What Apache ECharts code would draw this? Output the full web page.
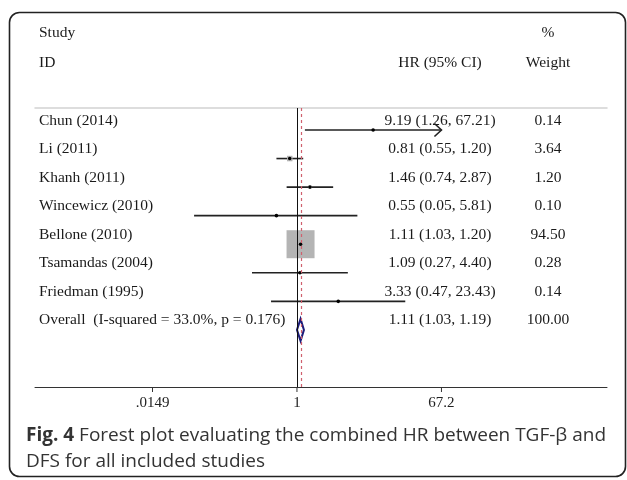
<!DOCTYPE html>
<html><head><meta charset="utf-8">
<script src="https://cdn.jsdelivr.net/npm/echarts@6/dist/echarts.min.js"></script>
<style>html,body{margin:0;padding:0;background:#fff}#c{width:627px;height:480px}</style>
</head><body><div id="c"></div>
<script>
// ---- data ----
const studies = ['Chun (2014)', 'Li (2011)', 'Khanh (2011)', 'Wincewicz (2010)', 'Bellone (2010)', 'Tsamandas (2004)', 'Friedman (1995)'];
const hr = [9.19, 0.81, 1.46, 0.55, 1.11, 1.09, 3.33];
const ciLow = [1.26, 0.55, 0.74, 0.05, 1.03, 0.27, 0.47];
const ciHigh = [67.21, 1.20, 2.87, 5.81, 1.20, 4.40, 23.43];
const weights = [0.14, 3.64, 1.20, 0.10, 94.50, 0.28, 0.14];
const overallLabel = 'Overall  (I-squared = 33.0%, p = 0.176)';
const overallHR = [1.11];
const overallLow = [1.03];
const overallHigh = [1.19];
const overallWeight = [100.00];
const tickValues = [0.0149, 1, 67.2];
const tickLabels = ['.0149', '1', '67.2'];

// ---- layout / style ----
const L = Math.log10;
const xMin = -3.313, xMax = 3.921;
const yMin = -0.77, yMax = 9;
const serif = 'Liberation Serif';
const txt = '#1a1a1a';
const boxScale = 28 / Math.sqrt(94.5);
const tickLo = L(tickValues[0]), tickHi = L(tickValues[tickValues.length - 1]);

const chart = echarts.init(document.getElementById('c'), null, {renderer: 'canvas'});

const studyData = studies.map((s, i) => [i, L(ciLow[i]), L(ciHigh[i]), L(hr[i]), weights[i]]);
const overallData = [[studies.length, L(overallLow[0]), L(overallHigh[0]), L(overallHR[0])]];
const tickData = tickValues.map(t => [L(t)]);

function renderStudy(params, api) {
  const i = api.value(0);
  let lo = api.value(1), hi = api.value(2);
  const p = api.value(3), w = api.value(4);
  const arrowR = hi > tickHi, arrowL = lo < tickLo;
  lo = Math.max(lo, tickLo); hi = Math.min(hi, tickHi);
  const a = api.coord([lo, i]), b = api.coord([hi, i]), c = api.coord([p, i]);
  const side = boxScale * Math.sqrt(w);
  const ch = [];
  ch.push({type: 'line', shape: {x1: a[0], y1: a[1], x2: b[0], y2: b[1]}, style: {stroke: '#222', lineWidth: 1.6}});
  if (arrowR) ch.push({type: 'polyline', shape: {points: [[b[0] - 7, b[1] - 6.5], [b[0], b[1]], [b[0] - 7, b[1] + 6.5]]}, style: {stroke: '#222', lineWidth: 1.6, fill: null}});
  if (arrowL) ch.push({type: 'polyline', shape: {points: [[a[0] + 7, a[1] - 6.5], [a[0], a[1]], [a[0] + 7, a[1] + 6.5]]}, style: {stroke: '#222', lineWidth: 1.6, fill: null}});
  ch.push({type: 'rect', shape: {x: c[0] - side / 2, y: c[1] - side / 2, width: side, height: side}, style: {fill: '#b4b4b4'}});
  ch.push({type: 'circle', shape: {cx: c[0], cy: c[1], r: 1.8}, style: {fill: '#000'}});
  return {type: 'group', children: ch};
}
function renderOverall(params, api) {
  const i = api.value(0);
  const a = api.coord([api.value(1), i]), b = api.coord([api.value(2), i]), c = api.coord([api.value(3), i]);
  const h = 11;
  return {type: 'polygon', shape: {points: [[a[0] - 1, a[1]], [c[0], c[1] - h], [b[0] + 1, b[1]], [c[0], c[1] + h]]},
    style: {fill: '#fff', stroke: '#1c1c7a', lineWidth: 2}};
}
function renderTick(params, api) {
  const p = api.coord([api.value(0), yMax]);
  return {type: 'line', shape: {x1: p[0], y1: p[1], x2: p[0], y2: p[1] + 5}, style: {stroke: '#333', lineWidth: 1}};
}

const option = {
  animation: false,
  backgroundColor: '#fff',
  grid: {left: 35, right: 20, top: 108, bottom: 93, containLabel: false},
  xAxis: [{
    type: 'value', min: xMin, max: xMax, position: 'bottom',
    axisLine: {show: true, onZero: false, lineStyle: {color: '#333', width: 1}},
    axisTick: {show: false},
    axisLabel: {show: true, customValues: tickValues.map(L), margin: 9, color: '#222', fontFamily: serif, fontSize: 15,
      formatter: v => { let k = 0, d = 1e9; tickValues.forEach((t, j) => { const dd = Math.abs(L(t) - v); if (dd < d) { d = dd; k = j; } }); return tickLabels[k]; }},
    splitLine: {show: false}
  }, {
    type: 'value', min: xMin, max: xMax, position: 'top',
    axisLine: {show: true, onZero: false, lineStyle: {color: '#d2d2d2', width: 1.5}},
    axisTick: {show: false}, axisLabel: {show: false}, splitLine: {show: false}
  }],
  yAxis: {type: 'value', inverse: true, min: yMin, max: yMax, show: false},
  series: [{
    type: 'custom', silent: true, z: 1, data: [],
    renderItem: () => null,
    markLine: {silent: true, symbol: 'none', label: {show: false},
      data: [
        {xAxis: 0, lineStyle: {color: '#111', width: 1, type: 'solid'}},
        {xAxis: L(overallHR[0]), lineStyle: {color: '#d0606e', width: 1.2, type: [3, 3]}}
      ]}
  }, {
    type: 'custom', z: 3, silent: true, data: studyData, renderItem: renderStudy, clip: false
  }, {
    type: 'custom', z: 3, silent: true, data: overallData, renderItem: renderOverall, clip: false
  }, {
    type: 'custom', z: 3, silent: true, data: tickData, renderItem: renderTick, clip: false
  }]
};
chart.setOption(option);

const rowY = i => chart.convertToPixel({yAxisIndex: 0}, i);
const g = [];
const tstyle = (text, x, y, align, size) => ({type: 'text', x: x, y: y, silent: true,
  style: {text: text, fill: txt, font: (size || 15.5) + 'px "' + serif + '"', textAlign: align || 'left', textVerticalAlign: 'middle'}});
g.push(tstyle('Study', 39, 33)); g.push(tstyle('ID', 39, 63));
g.push(tstyle('HR (95% CI)', 440, 63, 'center'));
g.push(tstyle('%', 548, 33, 'center')); g.push(tstyle('Weight', 548, 63, 'center'));
const fmt = v => v.toFixed(2);
studies.forEach((s, i) => {
  const y = rowY(i) - 9.5;
  g.push(tstyle(s, 39, y));
  g.push(tstyle(fmt(hr[i]) + ' (' + fmt(ciLow[i]) + ', ' + fmt(ciHigh[i]) + ')', 440, y, 'center'));
  g.push(tstyle(fmt(weights[i]), 548, y, 'center'));
});
const oy = rowY(studies.length) - 9.5;
g.push(tstyle(overallLabel, 39, oy));
g.push(tstyle(fmt(overallHR[0]) + ' (' + fmt(overallLow[0]) + ', ' + fmt(overallHigh[0]) + ')', 440, oy, 'center'));
g.push(tstyle(fmt(overallWeight[0]), 548, oy, 'center'));
// caption
g.push({type: 'text', x: 26, y: 423, silent: true, style: {
  text: '{b|Fig. 4} Forest plot evaluating the combined HR between TGF-β and\nDFS for all included studies',
  fill: '#333', font: '19px "Open Sans"', lineHeight: 26, textVerticalAlign: 'top',
  rich: {b: {fontWeight: 'bold', fontFamily: 'Open Sans', fontSize: 19, fill: '#333', lineHeight: 26}}}});
// frame
g.push({type: 'rect', silent: true, shape: {x: 9.5, y: 12.5, width: 616, height: 464, r: 10},
  style: {fill: null, stroke: '#222', lineWidth: 1.6}});
chart.setOption({graphic: g});
</script></body></html>
